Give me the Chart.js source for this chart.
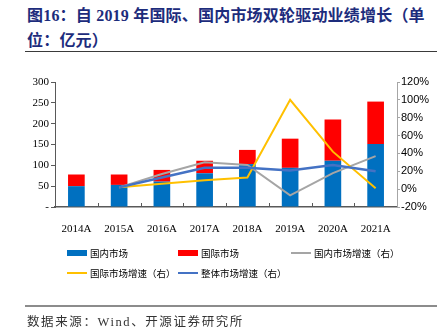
<!DOCTYPE html>
<html>
<head>
<meta charset="utf-8">
<script src="https://cdn.jsdelivr.net/npm/chart.js@4.4.1/dist/chart.umd.min.js"></script>
<style>
  html, body { margin: 0; padding: 0; background: #fff; }
  #page { position: relative; width: 441px; height: 332px; overflow: hidden; }
  #title {
    position: absolute; left: 27px; top: 3px; white-space: nowrap;
    font-family: "Liberation Serif", "Noto Sans CJK SC", serif;
    font-weight: bold; font-size: 16px; line-height: 25px; letter-spacing: 0.2px;
    color: #1d2c7c;
  }
  #titleRule { position: absolute; left: 25px; top: 51px; width: 412px; border-top: 1.5px solid #3a3a3a; }
  #chartBox { position: absolute; left: 0; top: 60px; width: 441px; height: 172px; }
  #legend { position: absolute; left: 0; top: 0; width: 441px; height: 332px; pointer-events: none; }
  .lg-item {
    position: absolute; display: flex; align-items: center; white-space: nowrap;
    font-family: "Noto Sans CJK SC", sans-serif; font-size: 9.5px; color: #000;
  }
  .lg-sym { width: 20px; margin-right: 3px; }
  #footRule { position: absolute; left: 25px; top: 305px; width: 412px; border-top: 2px solid #8c8c8c; }
  #source {
    position: absolute; left: 27px; top: 311px; white-space: nowrap;
    font-family: "Liberation Serif", "Noto Sans CJK SC", serif;
    font-size: 12.5px; letter-spacing: 1.6px; color: #333;
  }
</style>
</head>
<body>
<div id="page">
  <div id="title">图16：自 2019 年国际、国内市场双轮驱动业绩增长（单<br>位：亿元）</div>
  <div id="titleRule"></div>
  <div id="chartBox"><canvas id="chart"></canvas></div>
  <div id="legend"></div>
  <div id="footRule"></div>
  <div id="source">数据来源：Wind、开源证券研究所</div>
</div>
<script>
// 年份
const years = ['2014A', '2015A', '2016A', '2017A', '2018A', '2019A', '2020A', '2021A'];
// 收入（亿元）
const domesticRev = [50, 53, 61, 81, 103, 94, 111, 151];
const overseasRev = [28, 25, 28, 30, 34, 70, 99, 102];
// 增速（%）
const domesticGrowth = [null, 2, 17, 30, 27, -7, 18, 37];
const overseasGrowth = [null, 2, 6, 10, 13, 100, 42, 1];
const totalGrowth = [null, 2, 13, 24, 24, 21, 27, 20];
// 坐标轴刻度
const leftTicks = { min: 0, max: 300, step: 50 };
const rightTicks = { min: -20, max: 120, step: 20 };

const serif = 'Liberation Serif';
const sans = 'Liberation Sans';
const axisDark = '#595959';
const axisLight = '#a6a6a6';

// 类别之间的内向小刻度
const innerTicks = {
  id: 'innerTicks',
  afterDraw(chart) {
    const x = chart.scales.x, ctx = chart.ctx, bottom = chart.chartArea.bottom;
    ctx.save();
    ctx.strokeStyle = axisDark;
    ctx.lineWidth = 1;
    for (let i = 1; i < years.length; i++) {
      const px = Math.round((x.getPixelForValue(i - 1) + x.getPixelForValue(i)) / 2) + 0.5;
      ctx.beginPath();
      ctx.moveTo(px, bottom - 4);
      ctx.lineTo(px, bottom);
      ctx.stroke();
    }
    ctx.restore();
  }
};

const chart = new Chart(document.getElementById('chart'), {
  data: {
    labels: years,
    datasets: [
      { type: 'bar', label: '国内市场', data: domesticRev, backgroundColor: '#0070c0', yAxisID: 'y', order: 3,
        barPercentage: 0.39, categoryPercentage: 1 },
      { type: 'bar', label: '国际市场', data: overseasRev, backgroundColor: '#ff0000', yAxisID: 'y', order: 3,
        barPercentage: 0.39, categoryPercentage: 1 },
      { type: 'line', label: '国内市场增速（右）', data: domesticGrowth, borderColor: '#a5a5a5', borderWidth: 2,
        yAxisID: 'y1', pointRadius: 0, tension: 0, order: 2 },
      { type: 'line', label: '国际市场增速（右）', data: overseasGrowth, borderColor: '#ffc000', borderWidth: 2,
        yAxisID: 'y1', pointRadius: 0, tension: 0, order: 1 },
      { type: 'line', label: '整体市场增速（右）', data: totalGrowth, borderColor: '#4472c4', borderWidth: 2.5,
        yAxisID: 'y1', pointRadius: 0, tension: 0, order: 0 }
    ]
  },
  options: {
    responsive: true,
    maintainAspectRatio: false,
    animation: false,
    layout: { padding: { top: 22, left: 0, right: 0, bottom: 0 } },
    plugins: { legend: { display: false }, tooltip: { enabled: false } },
    scales: {
      x: {
        stacked: true,
        grid: { display: false },
        border: { color: axisDark, width: 1.5 },
        ticks: { color: '#000', padding: 8, font: { family: serif, size: 11 } },
        afterFit(s) { s.height = 25; }
      },
      y: {
        position: 'left',
        stacked: true,
        min: leftTicks.min, max: leftTicks.max,
        grid: { drawOnChartArea: false, tickLength: 4, tickColor: axisDark },
        border: { color: axisDark, width: 1 },
        ticks: {
          stepSize: leftTicks.step, padding: 2, color: '#000',
          font: { family: serif, size: 11 },
          callback: v => v === 0 ? '-' : v
        },
        afterFit(s) { s.width = 55; }
      },
      y1: {
        position: 'right',
        stacked: false,
        min: rightTicks.min, max: rightTicks.max,
        grid: { drawOnChartArea: false, tickLength: 3, tickColor: axisLight },
        border: { color: axisLight, width: 1 },
        ticks: {
          stepSize: rightTicks.step, padding: 1, color: '#000',
          font: { family: sans, size: 11 },
          callback: v => v + '%'
        },
        afterFit(s) { s.width = 44; }
      }
    }
  },
  plugins: [innerTicks]
});

// 图例：按数据集生成
const slots = [[67, 253], [178, 253], [291, 253], [67, 273], [178, 273]];
const legendEl = document.getElementById('legend');
chart.data.datasets.forEach((ds, i) => {
  const item = document.createElement('div');
  item.className = 'lg-item';
  item.style.left = slots[i][0] + 'px';
  item.style.top = (slots[i][1] - 7) + 'px';
  item.style.height = '14px';
  const sym = document.createElement('span');
  sym.className = 'lg-sym';
  if (ds.type === 'bar') {
    sym.style.height = '6px';
    sym.style.background = ds.backgroundColor;
  } else {
    sym.style.height = '2px';
    sym.style.background = ds.borderColor;
  }
  const txt = document.createElement('span');
  txt.textContent = ds.label;
  item.appendChild(sym);
  item.appendChild(txt);
  legendEl.appendChild(item);
});
</script>
</body>
</html>
